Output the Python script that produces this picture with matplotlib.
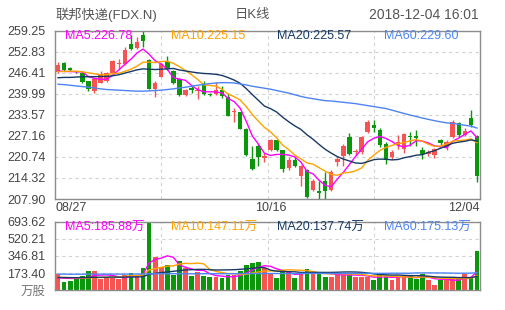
import numpy as np
import pandas as pd
import matplotlib
matplotlib.use('Agg')
import matplotlib.pyplot as plt
from matplotlib.transforms import blended_transform_factory

plt.rcParams['font.family'] = ['Liberation Sans', 'Noto Sans CJK SC']

# daily candles 08/27 .. 12/04
open_ = [246.5, 249.5, 248.0, 246.8, 246.3, 243.9, 240.8, 243.4, 244.0, 246.3,
         249.0, 249.0, 255.2, 253.9, 258.0, 250.4, 241.6, 245.2, 249.8, 247.0,
         244.6, 239.5, 241.8, 240.9, 242.6, 240.0, 240.0, 241.3, 239.0, 234.4,
         234.3, 229.4, 220.2, 224.0, 220.5, 223.0, 225.8, 222.7, 217.4, 219.7,
         215.0, 216.6, 210.6, 210.2, 213.3, 210.6, 219.1, 221.0, 226.9, 222.3,
         222.3, 228.4, 230.5, 228.9, 224.8, 220.7, 224.3, 223.3, 227.0, 227.0,
         222.8, 221.5, 221.2, 225.8, 223.8, 226.9, 231.0, 227.4, 232.5, 227.1]
close = [248.8, 247.3, 247.3, 246.5, 243.6, 241.5, 244.6, 246.0, 246.3, 249.9,
         249.5, 253.3, 253.7, 255.8, 256.0, 241.6, 243.2, 249.0, 247.5, 243.2,
         239.5, 241.3, 241.1, 241.3, 239.8, 239.5, 241.3, 239.3, 233.2, 234.8,
         229.4, 221.2, 217.1, 220.7, 220.9, 226.0, 222.8, 217.1, 219.7, 218.1,
         218.1, 208.5, 213.5, 209.8, 210.4, 216.0, 220.2, 224.0, 221.7, 222.6,
         226.9, 231.5, 229.5, 224.3, 219.7, 222.2, 225.3, 227.7, 226.7, 226.6,
         221.7, 222.3, 223.3, 225.1, 225.3, 231.5, 227.4, 228.7, 230.5, 215.0]
high = [249.8, 249.8, 248.2, 247.0, 246.9, 244.0, 244.8, 246.9, 246.8, 250.2,
        250.6, 254.2, 258.0, 257.3, 259.25, 250.6, 243.9, 249.4, 251.6, 247.3,
        244.8, 241.5, 242.4, 242.4, 243.8, 240.3, 243.7, 242.3, 240.3, 235.6,
        234.5, 229.5, 224.0, 224.8, 221.9, 226.3, 226.0, 222.9, 220.7, 220.7,
        218.3, 217.0, 214.0, 213.5, 216.1, 216.7, 220.7, 224.8, 227.9, 223.3,
        227.2, 232.0, 232.0, 229.5, 225.3, 223.0, 227.4, 227.9, 228.4, 228.9,
        223.8, 222.8, 223.5, 226.2, 225.8, 232.0, 231.5, 229.5, 235.1, 227.5]
low = [246.3, 247.0, 247.0, 246.3, 243.4, 240.7, 240.3, 243.2, 243.5, 246.0,
       247.7, 248.8, 253.5, 253.7, 254.4, 241.5, 238.9, 245.0, 247.3, 243.0,
       239.3, 239.3, 240.3, 238.4, 239.5, 239.3, 239.7, 238.7, 233.1, 231.4,
       229.3, 221.0, 216.8, 217.9, 219.2, 222.6, 222.5, 216.0, 216.8, 217.6,
       211.9, 208.3, 210.2, 208.0, 207.9, 210.4, 218.1, 218.1, 221.2, 221.2,
       221.7, 227.9, 228.4, 223.8, 218.6, 220.2, 223.3, 222.0, 224.2, 224.2,
       220.2, 221.0, 220.4, 224.5, 223.0, 226.5, 226.9, 227.0, 229.9, 213.0]
# volume, 10k shares
volume = [163, 84, 95, 119, 146, 194, 194, 108, 129, 119,
          112, 153, 177, 129, 228, 693.62, 334, 238, 251, 149,
          296, 228, 146, 184, 146, 129, 129, 119, 149, 153,
          190, 255, 276, 290, 228, 160, 125, 194, 190, 125,
          175, 210, 175, 175, 135, 135, 165, 165, 165, 131,
          128, 128, 104, 170, 138, 104, 145, 128, 138, 111,
          168, 107, 56, 107, 114, 114, 114, 168, 134, 395]

# MA values before enough history is on the chart
ma5_head = [247.0, 246.8, 246.8, 246.7]
ma10_head = [246.8, 246.8, 246.9, 246.9, 246.7, 246.4, 246.1, 245.8, 245.8]
ma20_head = [244.9, 245.0, 245.0, 245.1, 245.2, 245.2, 245.2, 245.3, 245.3, 245.5,
             245.8, 246.3, 246.8, 247.3, 247.6, 247.5, 247.4, 247.5, 247.6]
ma60_head = [242.9, 242.8, 242.6, 242.4, 242.2, 242.0, 241.8, 241.5, 241.3, 241.2,
             241.1, 241.0, 240.9, 240.8, 240.8, 240.9, 241.0, 241.1, 241.3, 241.5,
             241.8, 242.0, 242.3, 242.6, 242.9, 243.1, 243.3, 243.4, 243.4, 243.3,
             243.0, 242.7, 242.3, 242.0, 241.7, 241.4, 241.0, 240.6, 240.2, 239.7,
             239.2, 238.8, 238.5, 238.2, 237.9, 237.8, 237.6, 237.4, 237.2, 237.0,
             236.7, 236.4, 236.1, 235.8, 235.5, 235.0, 234.5, 234.0, 233.5]
vma5_head = [125, 120, 118, 118]
vma10_head = [130, 128, 126, 125, 124, 124, 126, 128, 128]
vma20_head = [128, 127, 126, 126, 127, 128, 130, 130, 131, 132,
              131, 132, 133, 133, 135, 160, 170, 178, 184]
vma60_head = [162, 162, 161, 161, 161, 162, 162, 162, 162, 162,
              162, 162, 163, 163, 163, 165, 166, 166, 166, 166,
              166, 166, 166, 166, 166, 166, 166, 166, 166, 166,
              167, 167, 168, 168, 168, 168, 168, 168, 168, 168,
              169, 169, 169, 169, 169, 169, 169, 170, 170, 170,
              170, 170, 170, 170, 170, 171, 171, 171, 171]

# legend values as printed on the chart
ma_names = ['MA5', 'MA10', 'MA20', 'MA60']
price_ma_text = ['226.78', '225.15', '225.57', '229.60']
vol_ma_text = ['185.88', '147.11', '137.74', '175.13']

date_labels = ['08/27', '10/16', '12/04']
date_idx = [0, 35, 69]
price_ticks = ['207.90', '214.32', '220.74', '227.16', '233.57', '239.99', '246.41', '252.83', '259.25']
vol_ticks = ['万股', '173.40', '346.81', '520.21', '693.62']

RED = '#f65353'
GREEN = '#0b960b'
MA_COLORS = ['#ff00ff', '#ffa200', '#163a66', '#4d84f2']
GRID = '#d2d2d2'
SPINE = '#8c8c8c'
TXT = '#444444'


def ma(values, n, head):
    s = pd.Series(values).rolling(n).mean().to_numpy()
    s[:len(head)] = head
    return s


open_ = np.array(open_)
close = np.array(close)
high = np.array(high)
low = np.array(low)
volume = np.array(volume)
x = np.arange(len(close))
up = close >= open_
colors = np.where(up, RED, GREEN)

W, H = 505, 310
fig = plt.figure(figsize=(W / 100, H / 100), dpi=100)
ax = fig.add_axes([55 / W, 1 - 199 / H, 425 / W, 168.3 / H])
axv = fig.add_axes([55 / W, 1 - 290 / H, 425 / W, 68 / H])

# candles
ax.vlines(x, low, high, colors=colors, lw=1)
body = np.maximum(np.abs(close - open_), 0.18)
ax.bar(x, body, bottom=np.minimum(open_, close), width=0.72, color=colors, lw=0)

price_ma = [ma(close, 5, ma5_head), ma(close, 10, ma10_head),
            ma(close, 20, ma20_head), ma(close, 60, ma60_head)]
for m, c in zip(price_ma, MA_COLORS):
    ax.plot(x, m, color=c, lw=1)

# volume
axv.bar(x, volume, width=0.78, color=colors, lw=0)
vol_ma = [ma(volume, 5, vma5_head), ma(volume, 10, vma10_head),
          ma(volume, 20, vma20_head), ma(volume, 60, vma60_head)]
for m, c in zip(vol_ma, MA_COLORS):
    axv.plot(x, m, color=c, lw=1)

ymin, ymax = float(price_ticks[0]), float(price_ticks[-1])
ax.set_ylim(ymin, ymax)
ax.set_yticks(np.linspace(ymin, ymax, len(price_ticks)))
ax.set_yticklabels(price_ticks)
vmax = float(vol_ticks[-1])
axv.set_ylim(0, vmax)
axv.set_yticks(np.linspace(0, vmax, len(vol_ticks)))
axv.set_yticklabels(vol_ticks)

for a in (ax, axv):
    a.set_xlim(-0.5, len(close) - 0.5)
    a.set_xticks([])
    a.yaxis.grid(True, ls=(0, (3, 3)), color=GRID, lw=0.8)
    a.set_axisbelow(True)
    for q in (0.25, 0.5, 0.75):
        a.axvline(-0.5 + q * len(close), ls=(0, (3, 3)), color=GRID, lw=0.8, zorder=0)
    for s in a.spines.values():
        s.set_color(SPINE)
        s.set_linewidth(1)
    a.tick_params(axis='y', length=0, pad=7, labelsize=9, labelcolor=TXT)

axv.get_yticklabels()[0].set_color('#777777')

# date labels under the price panel
tr = blended_transform_factory(ax.transData, ax.transAxes)
for lab, i in zip(date_labels, date_idx):
    if i == 0:
        ax.text(i - 0.5, -0.02, lab, transform=tr, ha='left', va='top', fontsize=9, color=TXT)
    elif i == len(close) - 1:
        ax.text(i + 0.5, -0.02, lab, transform=tr, ha='right', va='top', fontsize=9, color=TXT)
    else:
        ax.text(i, -0.02, lab, transform=tr, ha='center', va='top', fontsize=9, color=TXT)

# MA legends
for k, (n, t, c) in enumerate(zip(ma_names, price_ma_text, MA_COLORS)):
    ax.text(0.0235 + 0.25 * k, 0.968, n + ':' + t, transform=ax.transAxes,
            color=c, fontsize=9, va='center', ha='left')
for k, (n, t, c) in enumerate(zip(ma_names, vol_ma_text, MA_COLORS)):
    axv.text(0.0235 + 0.25 * k, 0.91, n + ':' + t + '万', transform=axv.transAxes,
             color=c, fontsize=9, va='center', ha='left')

fig.text(55 / W, 1 - 15 / H, '联邦快递(FDX.N)', ha='left', va='center', fontsize=9.5, color='#555555')
fig.text(252 / W, 1 - 15 / H, '日K线', ha='center', va='center', fontsize=9.5, color='#555555')
fig.text(479 / W, 1 - 15 / H, '2018-12-04 16:01', ha='right', va='center', fontsize=10, color='#555555')

fig.savefig('out.png', dpi=100)
